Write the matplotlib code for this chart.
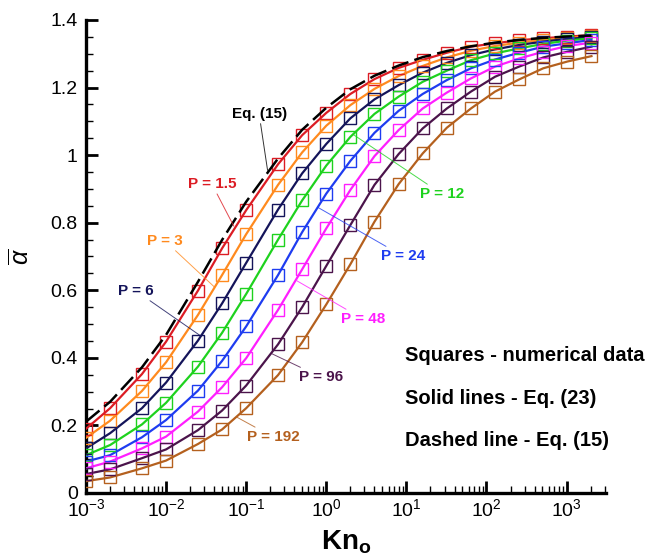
import numpy as np
import matplotlib
matplotlib.use('Agg')
import matplotlib.pyplot as plt
from matplotlib.ticker import MultipleLocator, LogLocator, FormatStrFormatter

plt.rcParams['font.family'] = 'Liberation Sans'
plt.rcParams['mathtext.fontset'] = 'custom'
plt.rcParams['mathtext.rm'] = 'Liberation Sans'
plt.rcParams['mathtext.it'] = 'Liberation Sans:italic'
plt.rcParams['mathtext.bf'] = 'Liberation Sans:bold'

# Knudsen numbers of the data points
kn = [0.001, 0.002, 0.005, 0.01, 0.025, 0.05, 0.1, 0.25, 0.5, 1,
      2, 4, 8, 16, 32, 64, 128, 256, 512, 1024, 2048]

labels = ['P = 1.5', 'P = 3', 'P = 6', 'P = 12', 'P = 24', 'P = 48', 'P = 96', 'P = 192']
colors = ['#dc1c24', '#ff8a1e', '#14145a', '#1ed21e', '#1e3cf0', '#ff1eff', '#4b144b', '#b4601e']

p1_5 = [0.190, 0.251, 0.352, 0.448, 0.599, 0.724, 0.837, 0.973, 1.059, 1.125, 1.181,
        1.225, 1.258, 1.282, 1.303, 1.321, 1.331, 1.340, 1.346, 1.351, 1.355]
p3 = [0.163, 0.214, 0.302, 0.387, 0.527, 0.645, 0.766, 0.912, 1.008, 1.087, 1.148,
      1.196, 1.234, 1.264, 1.289, 1.309, 1.323, 1.333, 1.341, 1.347, 1.352]
p6 = [0.132, 0.177, 0.251, 0.327, 0.451, 0.561, 0.681, 0.839, 0.946, 1.033, 1.109,
      1.165, 1.207, 1.244, 1.273, 1.296, 1.313, 1.326, 1.336, 1.344, 1.349]
p12 = [0.112, 0.142, 0.203, 0.267, 0.374, 0.474, 0.589, 0.750, 0.866, 0.969, 1.054,
       1.122, 1.173, 1.217, 1.250, 1.281, 1.301, 1.316, 1.329, 1.339, 1.346]
p24 = [0.093, 0.112, 0.165, 0.216, 0.303, 0.391, 0.493, 0.645, 0.772, 0.886, 0.983,
       1.066, 1.131, 1.181, 1.222, 1.257, 1.283, 1.303, 1.321, 1.331, 1.341]
p48 = [0.073, 0.093, 0.132, 0.167, 0.241, 0.313, 0.399, 0.542, 0.662, 0.783, 0.897,
       0.997, 1.074, 1.138, 1.185, 1.227, 1.262, 1.286, 1.306, 1.323, 1.333]
p96 = [0.056, 0.070, 0.103, 0.129, 0.186, 0.244, 0.318, 0.440, 0.550, 0.672, 0.793,
       0.912, 1.003, 1.079, 1.138, 1.188, 1.232, 1.262, 1.289, 1.306, 1.321]
p192 = [0.035, 0.046, 0.073, 0.096, 0.145, 0.188, 0.251, 0.349, 0.446, 0.558, 0.677,
        0.803, 0.914, 1.005, 1.081, 1.138, 1.188, 1.224, 1.257, 1.277, 1.293]

# Eq. (15), dashed
eq15 = [0.211, 0.270, 0.372, 0.468, 0.625, 0.749, 0.862, 0.990, 1.075, 1.140, 1.195,
        1.235, 1.265, 1.290, 1.308, 1.322, 1.333, 1.341, 1.347, 1.351, 1.354]

series = [p1_5, p3, p6, p12, p24, p48, p96, p192]

fig = plt.figure(figsize=(6.55, 5.58), dpi=100)
ax = fig.add_axes([0.1313, 0.1165, 0.7937, 0.8477])

for y, c in zip(series, colors):
    ax.plot(kn, y, color=c, lw=1.6, zorder=3)
    ax.plot(kn, y, 's', ms=8.5, mfc='none', mec=c, mew=1.0, zorder=4)

ax.plot(kn, eq15, color='black', lw=1.8, dashes=(7, 2.5), zorder=5)

# leader-line labels: (text x, text y, target x, target y)
notes = [
    ('Eq. (15)', 'black', 0.145, 1.122, 0.185, 0.955),
    ('P = 1.5', colors[0], 0.0374, 0.914, 0.07, 0.79),
    ('P = 3', colors[1], 0.0097, 0.746, 0.04, 0.61),
    ('P = 6', colors[2], 0.0042, 0.598, 0.027, 0.465),
    ('P = 12', colors[3], 27.8, 0.885, 2.2, 1.06),
    ('P = 24', colors[4], 9.1, 0.701, 0.79, 0.845),
    ('P = 48', colors[5], 2.87, 0.515, 0.43, 0.628),
    ('P = 96', colors[6], 0.86, 0.343, 0.21, 0.412),
    ('P = 192', colors[7], 0.216, 0.166, 0.077, 0.224),
]
for txt, c, tx, ty, px, py in notes:
    ax.annotate(txt, xy=(px, py), xytext=(tx, ty), color=c, fontsize=11,
                fontweight='bold', ha='center', va='center', zorder=6,
                arrowprops=dict(arrowstyle='-', color=c, lw=0.7, alpha=0.8,
                                shrinkA=0, shrinkB=0))

ax.text(9.6, 0.408, 'Squares - numerical data', fontsize=14.5, fontweight='bold', va='center')
ax.text(9.6, 0.281, 'Solid lines - Eq. (23)', fontsize=14.5, fontweight='bold', va='center')
ax.text(9.6, 0.154, 'Dashed line - Eq. (15)', fontsize=14.5, fontweight='bold', va='center')

ax.set_xscale('log')
ax.set_xlim(1e-3, 3.1e3)
ax.set_ylim(0, 1.4)
ax.xaxis.set_major_locator(LogLocator(base=10, numticks=10))
ax.xaxis.set_minor_locator(LogLocator(base=10, subs=np.arange(2, 10), numticks=20))
ax.yaxis.set_major_locator(MultipleLocator(0.2))
ax.yaxis.set_minor_locator(MultipleLocator(0.05))
ax.yaxis.set_major_formatter(FormatStrFormatter('%g'))

for s in ['top', 'right']:
    ax.spines[s].set_visible(False)
for s in ['left', 'bottom']:
    ax.spines[s].set_linewidth(2.4)

ax.tick_params(which='major', direction='in', length=8.5, width=2.0, labelsize=14)
ax.tick_params(which='minor', direction='in', length=5, width=1.0)
ax.tick_params(axis='y', pad=6)
ax.tick_params(axis='x', pad=4)

ax.set_ylabel(r'$\overline{\alpha}$', fontsize=18)
ax.yaxis.set_label_coords(-0.1, 0.5)
ax.set_xlabel(r'Kn$_\mathbf{o}$', fontsize=20, fontweight='bold')
ax.xaxis.set_label_coords(0.5, -0.075)

plt.savefig('out.png', dpi=100)
